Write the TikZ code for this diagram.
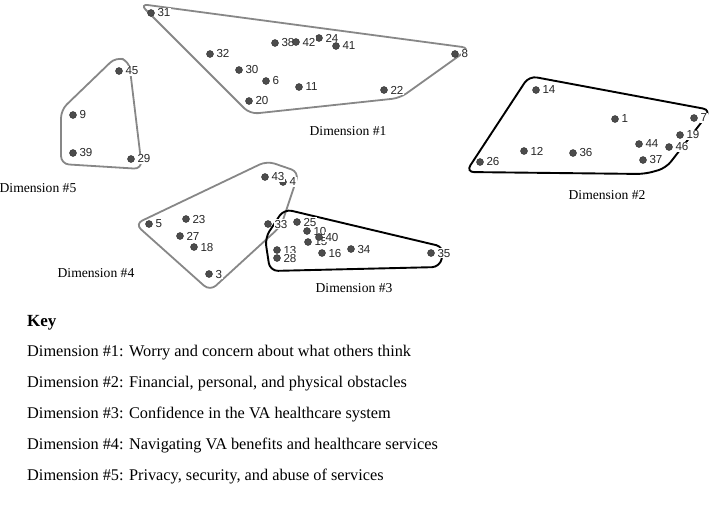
\documentclass[tikz,border=0pt]{standalone}
\usepackage{fontspec}
\setmainfont{Liberation Serif}
\newfontfamily\numfont{Liberation Sans}
\begin{document}
\begin{tikzpicture}[x=1pt,y=-1pt,
  hullgray/.style={draw=black!47, line width=1.8pt, rounded corners=8pt},
  hullblack/.style={draw=black, line width=1.9pt, rounded corners=8pt},
  dot/.style={circle, fill=black!70, draw=black!82, line width=0.4pt, minimum size=7pt, inner sep=0pt},
  numlbl/.style={font=\numfont\fontsize{11.6}{11.6}\selectfont, text=black!85, fill=white, inner sep=0.6pt, anchor=west},
  dimlbl/.style={font=\fontsize{13.6}{14}\selectfont, inner sep=0pt},
  keyline/.style={font=\fontsize{16.3}{18}\selectfont, anchor=west, inner sep=0pt}]
\useasboundingbox (0,0) rectangle (709,515);
% hulls
\draw[hullgray] (140,4) -- (470,48) -- (400,98) -- (250,114) -- cycle;
\draw[hullblack] (529,76) -- (711,110) -- (666,168) -- (645,174) -- (466,172) -- cycle;
\draw[hullgray] (116,57) -- (129,61) -- (142,169) -- (61,164) -- (61,110) -- cycle;
\draw[hullgray] (135,224) -- (267,161) -- (299,172) -- (281,226) -- (210,291) -- cycle;
\draw[hullblack] (284,209) -- (444,247) -- (440,267) -- (270,271) -- (265,238) -- cycle;
% points
\foreach \n/\x/\y in {1/615/119, 3/209/274, 4/283/182, 5/149/224, 6/266/81, 7/694/118,
  8/455/54, 9/73/115, 10/307/231, 11/299/87, 12/524/151, 13/277/250, 14/536/90,
  15/308/242, 16/322/253, 18/194/247, 19/680/135, 20/249/101, 22/384/90, 23/186/219,
  24/319/38, 25/297/222, 26/480/162, 27/180/236, 28/277/258, 29/131/159, 30/239/70,
  31/151/13, 32/210/54, 33/268/224, 34/351/249, 35/431/253, 36/573/153, 37/643/160,
  38/275/43, 39/73/153, 40/319/237, 41/336/46, 42/296/42, 43/265/177, 44/639/144,
  45/119/71, 46/669/147}{
  \node[dot] (p\n) at (\x,\y) {};
  \node[numlbl] (l\n) at ([xshift=2pt]p\n.east) {\n};
}
% dimension labels
\node[dimlbl] (d1) at (348,131) {Dimension \#1};
\node[dimlbl] (d2) at (607,195) {Dimension \#2};
\node[dimlbl] (d3) at (354,288) {Dimension \#3};
\node[dimlbl] (d4) at (96,273) {Dimension \#4};
\node[dimlbl] (d5) at (38,188) {Dimension \#5};
% key
\node[keyline, font=\bfseries\fontsize{17}{18}\selectfont] (key) at (27,323) {Key};
\node[keyline] (k1) at (27,353) {Dimension \#1: Worry and concern about what others think};
\node[keyline] (k2) at (27,384) {Dimension \#2: Financial, personal, and physical obstacles};
\node[keyline] (k3) at (27,415) {Dimension \#3: Confidence in the VA healthcare system};
\node[keyline] (k4) at (27,446) {Dimension \#4: Navigating VA benefits and healthcare services};
\node[keyline] (k5) at (27,477) {Dimension \#5: Privacy, security, and abuse of services};
\end{tikzpicture}
\end{document}
